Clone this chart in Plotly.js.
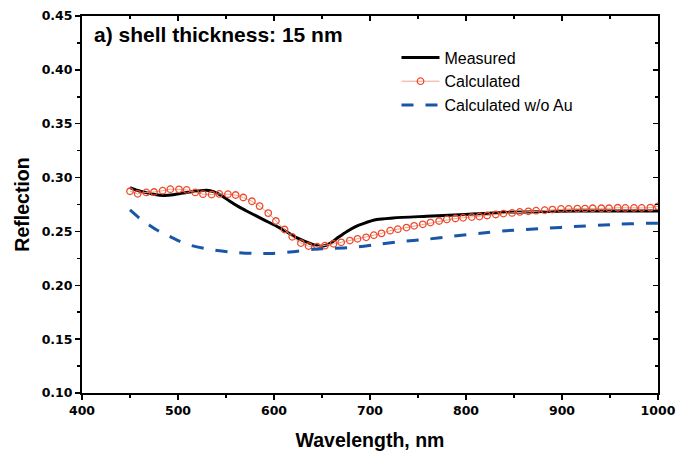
<!DOCTYPE html>
<html>
<head>
<meta charset="utf-8">
<script src="https://cdn.plot.ly/plotly-3.0.1.min.js"></script>
<style>html,body{margin:0;padding:0;background:#fff;}#chart{width:677px;height:455px;}</style>
</head>
<body>
<div id="chart"></div>
<script>
// Measured reflection
const measuredWl = [450,458,467,476,485,495,502,512,520,530,537,545,554,563,572,589,606,624,641,650,658,667,676,685,693,707,724,759,794,828,863,898,933,965,1000];
const measuredR = [0.2907,0.2880,0.2860,0.2842,0.2833,0.2840,0.2852,0.2865,0.2875,0.2882,0.2870,0.2835,0.2780,0.2730,0.2687,0.2610,0.2533,0.2440,0.2378,0.2362,0.2387,0.2445,0.2500,0.2545,0.2573,0.2610,0.2625,0.2641,0.2656,0.2672,0.2681,0.2687,0.2690,0.2690,0.2690];

// Calculated reflection (markers)
const calcWl = [450,458,467,475,484,492,501,509,518,526,535,543,552,560,568,577,585,594,602,611,619,628,636,645,653,662,670,679,687,696,704,712,721,729,738,746,755,763,772,780,789,797,806,814,822,831,839,848,856,865,873,882,890,899,907,916,924,932,941,949,958,966,975,983,992,1000];
const calcR = [0.2873,0.2849,0.2862,0.2866,0.2878,0.2892,0.2891,0.2885,0.2862,0.2846,0.2842,0.2848,0.2846,0.2838,0.2815,0.2780,0.2735,0.2670,0.2597,0.2518,0.2450,0.2392,0.2364,0.2358,0.2368,0.2385,0.2399,0.2415,0.2431,0.2445,0.2465,0.2482,0.2507,0.2521,0.2536,0.2552,0.2566,0.2582,0.2597,0.2611,0.2620,0.2626,0.2633,0.2638,0.2648,0.2657,0.2666,0.2672,0.2681,0.2687,0.2693,0.2697,0.2703,0.2709,0.2709,0.2712,0.2712,0.2715,0.2715,0.2715,0.2720,0.2718,0.2718,0.2718,0.2721,0.2733];

// Calculated without Au
const noAuWl = [450,460,470,478,490,499,512,533,554,578,599,620,641,662,683,703,731,759,787,815,842,884,912,960,988,1000];
const noAuR = [0.2699,0.2622,0.2560,0.2513,0.2460,0.2420,0.2374,0.2334,0.2309,0.2296,0.2296,0.2312,0.2334,0.2343,0.2352,0.2374,0.2405,0.2427,0.2457,0.2483,0.2507,0.2529,0.2545,0.2567,0.2576,0.2577];

const seriesNames = ['Measured','Calculated','Calculated w/o Au'];
const xTitle = 'Wavelength, nm';
const yTitle = 'Reflection';
const panelLabel = 'a) shell thickness: 15 nm';

const tickFont = {family:'DejaVu Sans, sans-serif', size:12.5, color:'#000', weight:'bold'};
const titleFont = {family:'Liberation Sans, Arial, sans-serif', size:19.5, color:'#000', weight:'bold'};

const traces = [
  {x: measuredWl, y: measuredR, name: seriesNames[0], type:'scatter', mode:'lines',
   line:{color:'#000000', width:3, shape:'spline', smoothing:0.8}},
  {x: calcWl, y: calcR, name: seriesNames[1], type:'scatter', mode:'lines+markers',
   line:{color:'#f6a190', width:1},
   marker:{symbol:'circle-open', size:6.5, color:'#ee4a2a', line:{width:1.3, color:'#ee4a2a'}}},
  {x: noAuWl, y: noAuR, name: seriesNames[2], type:'scatter', mode:'lines',
   line:{color:'#1a56a8', width:3, dash:'12px,12px', shape:'spline', smoothing:0.8}},
  {x: [], y: [], xaxis:'x2', yaxis:'y2', showlegend:false, hoverinfo:'skip'}
];

const layout = {
  width: 677, height: 455,
  margin: {l:82, r:19, t:16, b:62},
  paper_bgcolor:'#fff', plot_bgcolor:'#fff',
  font: {family:'Liberation Sans, Arial, sans-serif', color:'#000'},
  showlegend: true,
  legend: {x:0.546, y:0.935, xanchor:'left', yanchor:'top', bgcolor:'rgba(0,0,0,0)',
           font:{family:'Liberation Sans, Arial, sans-serif', size:16, color:'#000'},
           itemwidth:38, tracegroupgap:0},
  xaxis: {range:[400,1000], dtick:100, tick0:400, ticks:'outside', ticklen:5, tickwidth:1.5,
          tickcolor:'#000', showline:true, linewidth:2, linecolor:'#000', showgrid:false, zeroline:false,
          minor:{dtick:50, ticks:'outside', ticklen:3, tickwidth:1.5, tickcolor:'#000', showgrid:false},
          tickfont: tickFont, title:{text:xTitle, font:titleFont, standoff:16}},
  yaxis: {range:[0.10,0.45], dtick:0.05, tick0:0.10, tickformat:'.2f', ticks:'outside', ticklen:5, tickwidth:1.5,
          tickcolor:'#000', showline:true, linewidth:2, linecolor:'#000', showgrid:false, zeroline:false,
          minor:{dtick:0.025, ticks:'outside', ticklen:3, tickwidth:1.5, tickcolor:'#000', showgrid:false},
          tickfont: tickFont, title:{text:yTitle, font:titleFont, standoff:7}},
  xaxis2: {overlaying:'x', matches:'x', side:'top', range:[400,1000], dtick:100, tick0:400,
           ticks:'inside', ticklen:5, tickwidth:1.5, tickcolor:'#000', showticklabels:false,
           showline:true, linewidth:2, linecolor:'#000', showgrid:false, zeroline:false,
           minor:{dtick:50, ticks:'inside', ticklen:3, tickwidth:1.5, tickcolor:'#000', showgrid:false}},
  yaxis2: {overlaying:'y', matches:'y', side:'right', range:[0.10,0.45], dtick:0.05, tick0:0.10,
           ticks:'inside', ticklen:5, tickwidth:1.5, tickcolor:'#000', showticklabels:false,
           showline:true, linewidth:2, linecolor:'#000', showgrid:false, zeroline:false,
           minor:{dtick:0.025, ticks:'inside', ticklen:3, tickwidth:1.5, tickcolor:'#000', showgrid:false}},
  annotations: [
    {text: panelLabel, xref:'paper', yref:'paper', x:0.0165, y:0.95, xanchor:'left', yanchor:'middle',
     showarrow:false, font:{family:'Liberation Sans, Arial, sans-serif', size:21, color:'#000', weight:'bold'}}
  ]
};

Plotly.newPlot('chart', traces, layout, {displayModeBar:false, staticPlot:true});
</script>
</body>
</html>
